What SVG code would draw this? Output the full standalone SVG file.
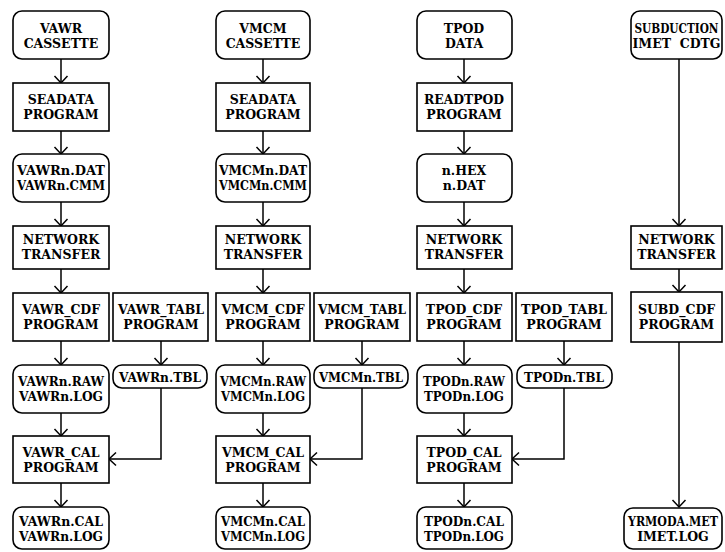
<svg xmlns="http://www.w3.org/2000/svg" width="725" height="552" viewBox="0 0 725 552">
<style>
.b{fill:#fff;stroke:#000;stroke-width:1.6}
.t{font-family:'DejaVu Serif','Liberation Serif',serif;font-weight:bold;font-size:12.5px;fill:#000;text-anchor:middle}
.c{fill:none;stroke:#000;stroke-width:1.5}
</style>
<defs>
<marker id="a" viewBox="-9 -8 11 16" refX="0" refY="0" markerWidth="11" markerHeight="16" markerUnits="userSpaceOnUse" orient="auto">
<path d="M-7,-6.5 L0,0 L-7,6.5" fill="none" stroke="#000" stroke-width="1.5"/>
</marker>
</defs>
<rect width="725" height="552" fill="#fff"/>
<g id="connectors" class="c" marker-end="url(#a)">
<path d="M61,59V83"/><path d="M61,131V154"/><path d="M61,202V226"/><path d="M61,269V293"/><path d="M61,341V365"/><path d="M61,413V436"/><path d="M61,483V507"/>
<path d="M161,341V365"/><path d="M161,388V459H109"/>
<path d="M263,59V83"/><path d="M263,131V154"/><path d="M263,202V226"/><path d="M263,269V293"/><path d="M263,341V365"/><path d="M263,413V436"/><path d="M263,483V507"/>
<path d="M362,341V365"/><path d="M362,388V459H310"/>
<path d="M464,59V83"/><path d="M464,131V154"/><path d="M464,202V226"/><path d="M464,269V293"/><path d="M464,341V365"/><path d="M464,413V436"/><path d="M464,483V507"/>
<path d="M564,341V365"/><path d="M564,388V459H512"/>
<path d="M679,59V226"/><path d="M679,269V292"/><path d="M679,342V507"/>
</g>
<g id="vawr_cassette"><rect class="b" x="13" y="11" width="96" height="48" rx="9"/><text class="t" x="61" y="33">VAWR</text><text class="t" x="61" y="48">CASSETTE</text></g>
<g id="vawr_seadata"><rect class="b" x="13" y="83" width="96" height="48"/><text class="t" x="61" y="104">SEADATA</text><text class="t" x="61" y="119">PROGRAM</text></g>
<g id="vawr_dat"><rect class="b" x="13" y="154" width="96" height="48" rx="9"/><text class="t" x="61" y="175" textLength="88" lengthAdjust="spacingAndGlyphs">VAWRn.DAT</text><text class="t" x="61" y="190" textLength="88" lengthAdjust="spacingAndGlyphs">VAWRn.CMM</text></g>
<g id="vawr_net"><rect class="b" x="13" y="226" width="96" height="43"/><text class="t" x="61" y="244">NETWORK</text><text class="t" x="61" y="259">TRANSFER</text></g>
<g id="vawr_cdf"><rect class="b" x="13" y="293" width="96" height="48"/><text class="t" x="61" y="314">VAWR_CDF</text><text class="t" x="61" y="329">PROGRAM</text></g>
<g id="vawr_tabl"><rect class="b" x="113" y="293" width="95" height="48"/><text class="t" x="161" y="314" textLength="86" lengthAdjust="spacingAndGlyphs">VAWR_TABL</text><text class="t" x="161" y="329">PROGRAM</text></g>
<g id="vawr_raw"><rect class="b" x="13" y="365" width="96" height="48" rx="9"/><text class="t" x="61" y="386" textLength="86" lengthAdjust="spacingAndGlyphs">VAWRn.RAW</text><text class="t" x="61" y="401" textLength="84" lengthAdjust="spacingAndGlyphs">VAWRn.LOG</text></g>
<g id="vawr_tbl"><rect class="b" x="113" y="365" width="94" height="23" rx="9"/><text class="t" x="160" y="382" textLength="82" lengthAdjust="spacingAndGlyphs">VAWRn.TBL</text></g>
<g id="vawr_cal"><rect class="b" x="13" y="436" width="96" height="47"/><text class="t" x="61" y="457">VAWR_CAL</text><text class="t" x="61" y="472">PROGRAM</text></g>
<g id="vawr_out"><rect class="b" x="13" y="507" width="96" height="42" rx="9"/><text class="t" x="61" y="526" textLength="84" lengthAdjust="spacingAndGlyphs">VAWRn.CAL</text><text class="t" x="61" y="541" textLength="84" lengthAdjust="spacingAndGlyphs">VAWRn.LOG</text></g>
<g id="vmcm_cassette"><rect class="b" x="216" y="11" width="94" height="48" rx="9"/><text class="t" x="263" y="33">VMCM</text><text class="t" x="263" y="48">CASSETTE</text></g>
<g id="vmcm_seadata"><rect class="b" x="216" y="83" width="94" height="48"/><text class="t" x="263" y="104">SEADATA</text><text class="t" x="263" y="119">PROGRAM</text></g>
<g id="vmcm_dat"><rect class="b" x="216" y="154" width="94" height="48" rx="9"/><text class="t" x="263" y="175" textLength="88" lengthAdjust="spacingAndGlyphs">VMCMn.DAT</text><text class="t" x="263" y="190" textLength="88" lengthAdjust="spacingAndGlyphs">VMCMn.CMM</text></g>
<g id="vmcm_net"><rect class="b" x="216" y="226" width="94" height="43"/><text class="t" x="263" y="244">NETWORK</text><text class="t" x="263" y="259">TRANSFER</text></g>
<g id="vmcm_cdf"><rect class="b" x="216" y="293" width="94" height="48"/><text class="t" x="263" y="314">VMCM_CDF</text><text class="t" x="263" y="329">PROGRAM</text></g>
<g id="vmcm_tabl"><rect class="b" x="314" y="293" width="96" height="48"/><text class="t" x="362" y="314" textLength="88" lengthAdjust="spacingAndGlyphs">VMCM_TABL</text><text class="t" x="362" y="329">PROGRAM</text></g>
<g id="vmcm_raw"><rect class="b" x="216" y="365" width="94" height="48" rx="9"/><text class="t" x="263" y="386" textLength="86" lengthAdjust="spacingAndGlyphs">VMCMn.RAW</text><text class="t" x="263" y="401" textLength="84" lengthAdjust="spacingAndGlyphs">VMCMn.LOG</text></g>
<g id="vmcm_tbl"><rect class="b" x="314" y="365" width="94" height="23" rx="9"/><text class="t" x="361" y="382" textLength="84" lengthAdjust="spacingAndGlyphs">VMCMn.TBL</text></g>
<g id="vmcm_cal"><rect class="b" x="216" y="436" width="94" height="47"/><text class="t" x="263" y="457">VMCM_CAL</text><text class="t" x="263" y="472">PROGRAM</text></g>
<g id="vmcm_out"><rect class="b" x="216" y="507" width="94" height="42" rx="9"/><text class="t" x="263" y="526" textLength="84" lengthAdjust="spacingAndGlyphs">VMCMn.CAL</text><text class="t" x="263" y="541" textLength="84" lengthAdjust="spacingAndGlyphs">VMCMn.LOG</text></g>
<g id="tpod_data"><rect class="b" x="417" y="11" width="95" height="48" rx="9"/><text class="t" x="464" y="33">TPOD</text><text class="t" x="464" y="48">DATA</text></g>
<g id="tpod_read"><rect class="b" x="417" y="83" width="95" height="48"/><text class="t" x="464" y="104" textLength="80" lengthAdjust="spacingAndGlyphs">READTPOD</text><text class="t" x="464" y="119">PROGRAM</text></g>
<g id="tpod_hex"><rect class="b" x="417" y="154" width="95" height="48" rx="9"/><text class="t" x="464" y="175">n.HEX</text><text class="t" x="464" y="190">n.DAT</text></g>
<g id="tpod_net"><rect class="b" x="417" y="226" width="95" height="43"/><text class="t" x="464" y="244">NETWORK</text><text class="t" x="464" y="259">TRANSFER</text></g>
<g id="tpod_cdf"><rect class="b" x="417" y="293" width="95" height="48"/><text class="t" x="464" y="314">TPOD_CDF</text><text class="t" x="464" y="329">PROGRAM</text></g>
<g id="tpod_tabl"><rect class="b" x="516" y="293" width="96" height="48"/><text class="t" x="564" y="314" textLength="86" lengthAdjust="spacingAndGlyphs">TPOD_TABL</text><text class="t" x="564" y="329">PROGRAM</text></g>
<g id="tpod_raw"><rect class="b" x="417" y="365" width="95" height="48" rx="9"/><text class="t" x="464" y="386" textLength="82" lengthAdjust="spacingAndGlyphs">TPODn.RAW</text><text class="t" x="464" y="401" textLength="80" lengthAdjust="spacingAndGlyphs">TPODn.LOG</text></g>
<g id="tpod_tbl"><rect class="b" x="517" y="365" width="95" height="23" rx="9"/><text class="t" x="564" y="382" textLength="80" lengthAdjust="spacingAndGlyphs">TPODn.TBL</text></g>
<g id="tpod_cal"><rect class="b" x="417" y="436" width="95" height="47"/><text class="t" x="464" y="457">TPOD_CAL</text><text class="t" x="464" y="472">PROGRAM</text></g>
<g id="tpod_out"><rect class="b" x="417" y="507" width="95" height="42" rx="9"/><text class="t" x="464" y="526" textLength="80" lengthAdjust="spacingAndGlyphs">TPODn.CAL</text><text class="t" x="464" y="541" textLength="80" lengthAdjust="spacingAndGlyphs">TPODn.LOG</text></g>
<g id="subduction"><rect class="b" x="631" y="11" width="91" height="48" rx="9"/><text class="t" x="676.5" y="33" textLength="84" lengthAdjust="spacingAndGlyphs">SUBDUCTION</text><text class="t" x="676.5" y="48" xml:space="preserve">IMET  CDTG</text></g>
<g id="subd_net"><rect class="b" x="631" y="226" width="91" height="43"/><text class="t" x="676.5" y="244">NETWORK</text><text class="t" x="676.5" y="259">TRANSFER</text></g>
<g id="subd_cdf"><rect class="b" x="631" y="292" width="91" height="50"/><text class="t" x="676.5" y="314">SUBD_CDF</text><text class="t" x="676.5" y="329">PROGRAM</text></g>
<g id="subd_out"><rect class="b" x="624" y="508" width="98" height="41" rx="9"/><text class="t" x="673" y="526" textLength="90" lengthAdjust="spacingAndGlyphs">YRMODA.MET</text><text class="t" x="673" y="541">IMET.LOG</text></g>
</svg>
